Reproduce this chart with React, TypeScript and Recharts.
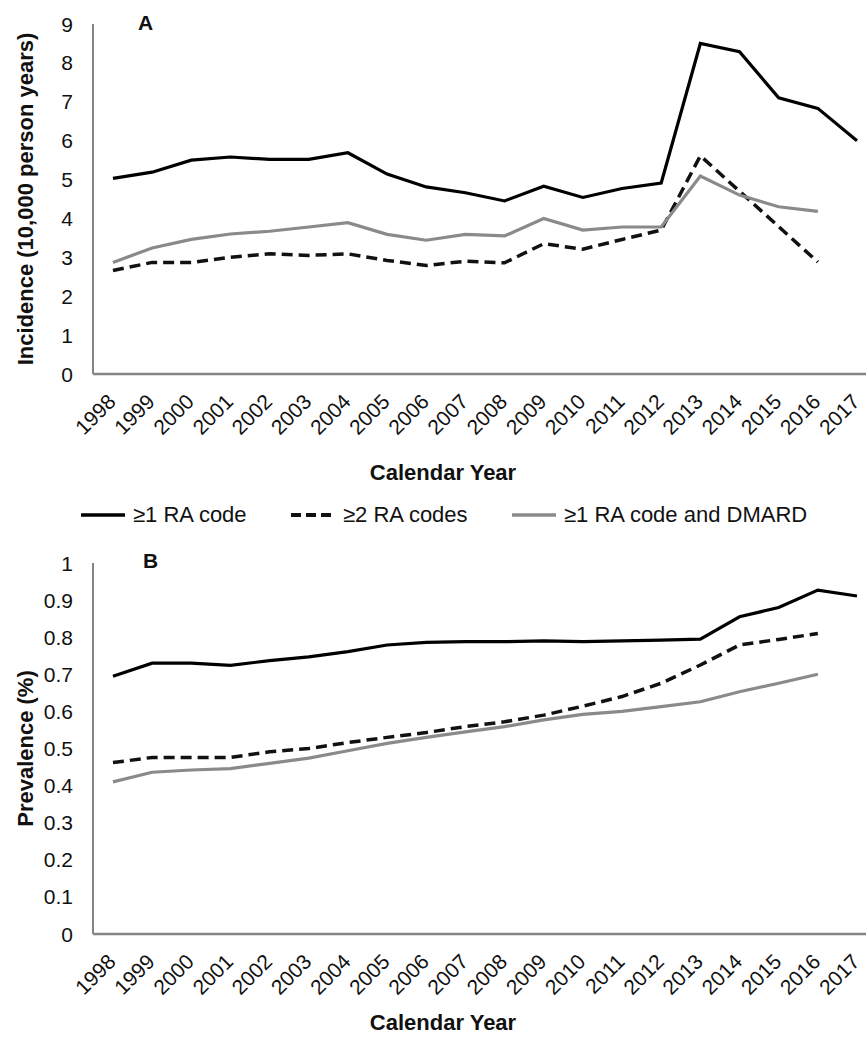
import React from 'react'
import { LineChart, Line, XAxis, YAxis } from 'recharts'

document.body.style.margin = '0'
document.body.style.overflow = 'hidden'

const years = [1998, 1999, 2000, 2001, 2002, 2003, 2004, 2005, 2006, 2007, 2008, 2009, 2010, 2011, 2012, 2013, 2014, 2015, 2016, 2017]

// panel A: incidence per 10,000 person years
const incidenceOneCode = [5.03, 5.19, 5.5, 5.58, 5.52, 5.52, 5.69, 5.14, 4.81, 4.66, 4.45, 4.83, 4.54, 4.77, 4.91, 8.5, 8.29, 7.1, 6.83, 6.0]
const incidenceTwoCodes = [2.66, 2.87, 2.87, 3.0, 3.09, 3.05, 3.09, 2.92, 2.79, 2.9, 2.86, 3.35, 3.21, 3.46, 3.7, 5.61, 4.7, 3.79, 2.88, null]
const incidenceDmard = [2.87, 3.24, 3.46, 3.6, 3.67, 3.78, 3.89, 3.59, 3.44, 3.59, 3.55, 4.0, 3.7, 3.78, 3.78, 5.09, 4.6, 4.3, 4.18, null]

// panel B: prevalence (%)
const prevalenceOneCode = [0.695, 0.73, 0.73, 0.724, 0.737, 0.747, 0.761, 0.779, 0.786, 0.788, 0.788, 0.79, 0.788, 0.79, 0.792, 0.795, 0.855, 0.88, 0.927, 0.911]
const prevalenceTwoCodes = [0.462, 0.476, 0.476, 0.476, 0.491, 0.5, 0.516, 0.53, 0.543, 0.559, 0.572, 0.59, 0.614, 0.64, 0.676, 0.725, 0.779, 0.794, 0.81, null]
const prevalenceDmard = [0.41, 0.436, 0.442, 0.446, 0.46, 0.474, 0.494, 0.514, 0.53, 0.545, 0.559, 0.577, 0.592, 0.6, 0.613, 0.626, 0.653, 0.676, 0.7, null]

const incidenceTicks = [0, 1, 2, 3, 4, 5, 6, 7, 8, 9]
const prevalenceTicks = [0, 0.1, 0.2, 0.3, 0.4, 0.5, 0.6, 0.7, 0.8, 0.9, 1]

const seriesNames = ['≥1 RA code', '≥2 RA codes', '≥1 RA code and DMARD']

const FONT = '"Liberation Sans", Arial, sans-serif'
const AXIS = '#858585'

const incidenceData = years.map((year, i) => ({
  year,
  one: incidenceOneCode[i],
  two: incidenceTwoCodes[i],
  dmard: incidenceDmard[i]
}))

const prevalenceData = years.map((year, i) => ({
  year,
  one: prevalenceOneCode[i],
  two: prevalenceTwoCodes[i],
  dmard: prevalenceDmard[i]
}))

const YearTick = (props: any) => {
  const { x, y, payload } = props
  const tx = x + 4
  const ty = y + 29
  return (
    <text x={tx} y={ty} transform={`rotate(-45, ${tx}, ${ty})`} textAnchor="end" fontSize={21} fontFamily={FONT} fill="#111">
      {payload.value}
    </text>
  )
}

const ValueTick = (props: any) => {
  const { x, y, payload } = props
  return (
    <text x={x - 20} y={y} dy="0.36em" textAnchor="end" fontSize={21} fontFamily={FONT} fill="#111">
      {payload.value}
    </text>
  )
}

const yTitle = (text: string) => (props: any) => {
  const vb = props.viewBox
  const cy = vb.y + vb.height / 2
  return (
    <text x={33} y={cy} transform={`rotate(-90, 33, ${cy})`} textAnchor="middle" fontSize={22} fontWeight="bold" fontFamily={FONT} fill="#111">
      {text}
    </text>
  )
}

const xTitle = (dy: number) => (props: any) => {
  const vb = props.viewBox
  return (
    <text x={443} y={vb.y + dy} textAnchor="middle" fontSize={22} fontWeight="bold" fontFamily={FONT} fill="#111">
      Calendar Year
    </text>
  )
}

const lines = [
  { key: 'one', stroke: '#000', dash: undefined, width: 3.2 },
  { key: 'two', stroke: '#111', dash: '11 6', width: 3.5 },
  { key: 'dmard', stroke: '#8a8a8a', dash: undefined, width: 3.2 }
]

const Panel = ({ data, ticks, max, title, top, height, axisHeight, xTitleDy }: any) => (
  <LineChart
    width={866}
    height={height}
    data={data}
    margin={{ top, right: 0, left: 0, bottom: 0 }}
  >
    <XAxis
      dataKey="year"
      type="number"
      domain={[1997.49, 2017.23]}
      allowDataOverflow
      ticks={years}
      interval={0}
      tick={<YearTick />}
      tickLine={false}
      tickSize={0}
      tickMargin={0}
      height={axisHeight}
      axisLine={{ stroke: AXIS, strokeWidth: 2.5 }}
      label={{ content: xTitle(xTitleDy) }}
    />
    <YAxis
      type="number"
      domain={[0, max]}
      ticks={ticks}
      interval={0}
      width={93}
      tick={<ValueTick />}
      tickLine={false}
      tickSize={0}
      tickMargin={0}
      axisLine={{ stroke: AXIS, strokeWidth: 2 }}
      label={{ content: yTitle(title) }}
    />
    {lines.map((l) => (
      <Line
        key={l.key}
        dataKey={l.key}
        stroke={l.stroke}
        strokeWidth={l.width}
        strokeDasharray={l.dash}
        dot={false}
        activeDot={false}
        type="linear"
        isAnimationActive={false}
      />
    ))}
  </LineChart>
)

const legendX = [80, 290, 511]

const LegendRow = () => (
  <div style={{ position: 'absolute', top: 500, left: 0, width: 866, height: 30 }}>
    {lines.map((l, i) => (
      <div key={l.key} style={{ position: 'absolute', left: legendX[i], top: 0, display: 'flex', alignItems: 'center', height: 30 }}>
        <svg width={46} height={10}>
          <line x1={1} y1={5} x2={45} y2={5} stroke={l.stroke} strokeWidth={l.width + 0.5} strokeDasharray={l.dash ? '10 5' : undefined} />
        </svg>
        <span style={{ marginLeft: 7, fontFamily: FONT, fontSize: 22, color: '#111', whiteSpace: 'nowrap' }}>
          {seriesNames[i]}
        </span>
      </div>
    ))}
  </div>
)

const PanelLetter = ({ letter, x, y }: any) => (
  <div style={{ position: 'absolute', left: x, top: y, fontFamily: FONT, fontWeight: 'bold', fontSize: 21, color: '#111', lineHeight: 1 }}>
    {letter}
  </div>
)

export default function App() {
  return (
    <div style={{ position: 'relative', width: 866, height: 1037, background: '#fff', overflow: 'hidden' }}>
      <div style={{ position: 'absolute', left: 0, top: 0 }}>
        <Panel data={incidenceData} ticks={incidenceTicks} max={9} title="Incidence (10,000 person years)" top={24} height={490} axisHeight={116} xTitleDy={106} />
      </div>
      <LegendRow />
      <div style={{ position: 'absolute', left: 0, top: 530 }}>
        <Panel data={prevalenceData} ticks={prevalenceTicks} max={1} title="Prevalence (%)" top={33} height={507} axisHeight={103} xTitleDy={96} />
      </div>
      <PanelLetter letter="A" x={138} y={12} />
      <PanelLetter letter="B" x={143} y={550} />
    </div>
  )
}
